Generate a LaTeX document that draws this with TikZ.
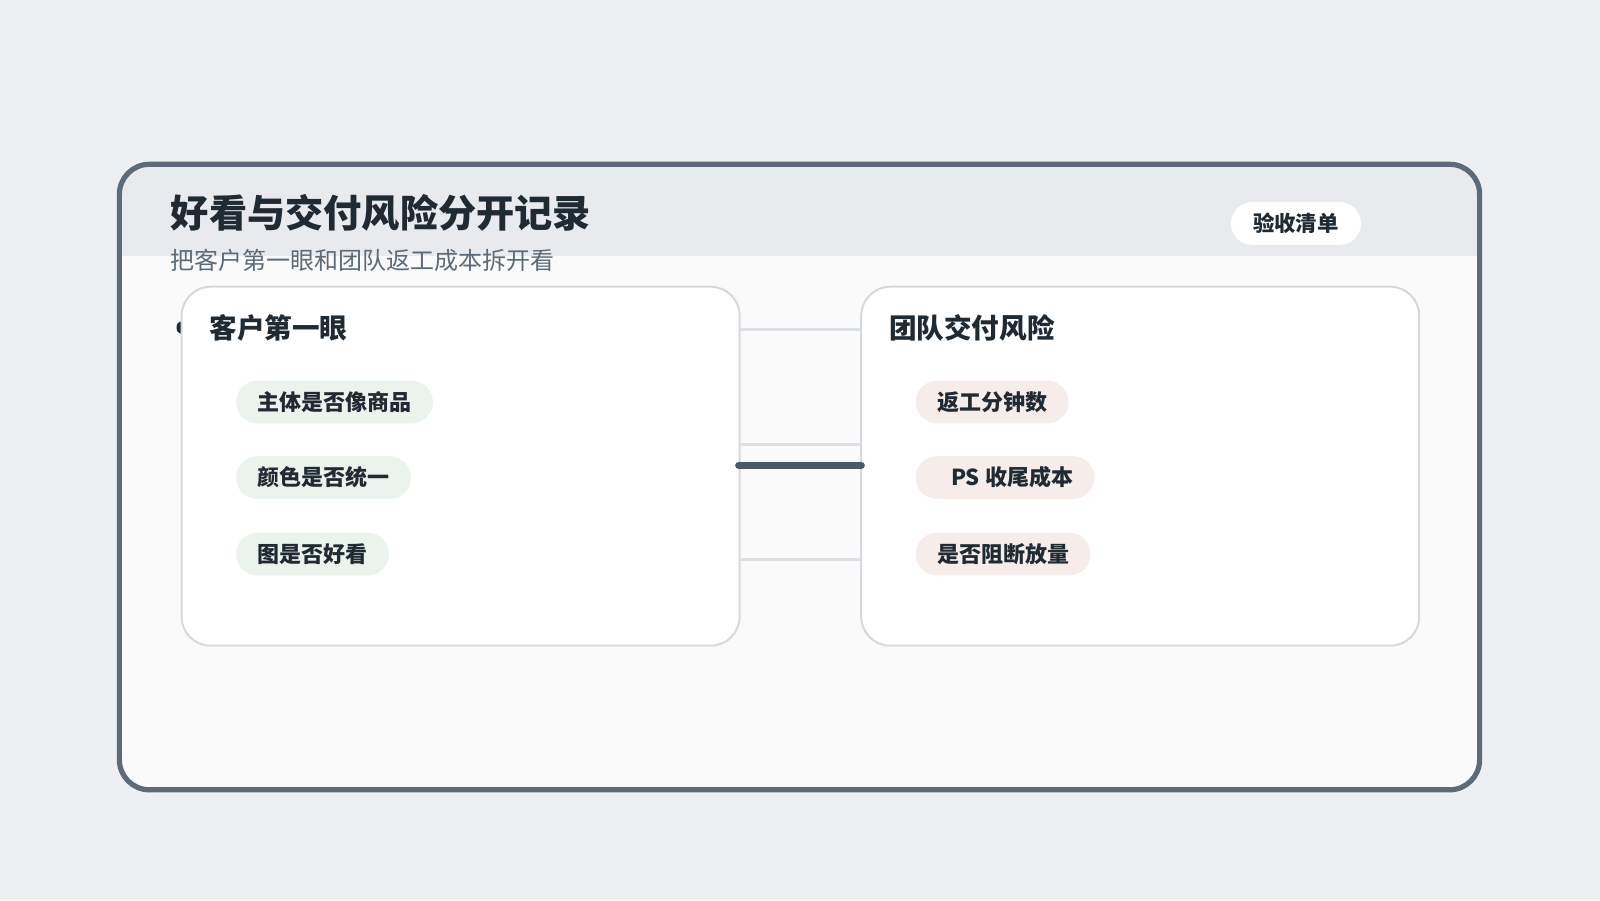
\documentclass[tikz,border=0pt]{standalone}
\usepackage{fontspec}
\setmainfont{Noto Sans CJK SC}
\definecolor{bg}{HTML}{EDF0F3}
\definecolor{frame}{HTML}{5D6B78}
\definecolor{head}{HTML}{E9EAEE}
\definecolor{ink}{HTML}{1F2A33}
\definecolor{sub}{HTML}{5D6B78}
\definecolor{cardb}{HTML}{D5D9DF}
\definecolor{conn}{HTML}{DCDFE3}
\definecolor{main}{HTML}{4B5A64}
\definecolor{green}{HTML}{EAF4EC}
\definecolor{pink}{HTML}{F6ECEA}
\begin{document}
\begin{tikzpicture}[x=0.5102pt,y=-0.5102pt,
  card/.style={draw=cardb,line width=1pt,fill=white,rounded corners=14.5pt},
  ctitle/.style={anchor=west,font=\fontsize{13.8}{16}\selectfont\bfseries,text=ink,inner sep=0},
  pill/.style={rounded corners=10.7pt,minimum height=21.4pt,anchor=west,inner xsep=10.7pt,font=\fontsize{11}{13}\selectfont\bfseries,text=ink},
  gp/.style={pill,fill=green},
  pp/.style={pill,fill=pink},
  conn/.style={draw=conn,line width=1.5pt}]
\fill[bg] (0,0) rectangle (1568,882);
\useasboundingbox (0,0) rectangle (1568,882);
\begin{scope}
\clip[rounded corners=15pt] (117,161) rectangle (1450,774);
\fill[white!96!gray] (117,161) rectangle (1450,774);
\fill[head] (117,161) rectangle (1450,251);
\end{scope}
\draw[frame,line width=2.6pt,rounded corners=15pt] (117,161) rectangle (1450,774);
\node[anchor=west,inner sep=0,font=\fontsize{19.1}{24}\selectfont\bfseries,text=ink] (title) at (167,209) {好看与交付风险分开记录};
\node[anchor=west,inner sep=0,font=\fontsize{12}{14}\selectfont,text=sub] (subt) at (167,255) {把客户第一眼和团队返工成本拆开看};
\node[fill=white,rounded corners=10.7pt,minimum width=65pt,minimum height=21.4pt,font=\fontsize{10.7}{12}\selectfont\bfseries,text=ink] (badge) at (1270,219) {验收清单};
\fill[ink] (177,321) ellipse (4 and 6);
\node[card,minimum width=279pt,minimum height=179.5pt,anchor=north west] (L) at (177,280) {};
\node[card,minimum width=279pt,minimum height=179.5pt,anchor=north west] (R) at (843,280) {};
\coordinate (l1) at (725,323); \coordinate (r1) at (843,323);
\coordinate (l2) at (725,436); \coordinate (r2) at (843,436);
\coordinate (l3) at (725,548); \coordinate (r3) at (843,548);
\coordinate (l4) at (724,456); \coordinate (r4) at (844,456);
\draw[conn] (l1) -- (r1);
\draw[conn] (l2) -- (r2);
\draw[conn] (l3) -- (r3);
\draw[main,line width=3.6pt,line cap=round] (l4) -- (r4);
\node[ctitle] (lt) at (205,321) {客户第一眼};
\node[ctitle] (rt) at (871,321) {团队交付风险};
\node[gp] (g1) at (231,394) {主体是否像商品};
\node[gp] (g2) at (231,468) {颜色是否统一};
\node[gp] (g3) at (231,543) {图是否好看};
\node[pp] (p1) at (897,394) {返工分钟数};
\node[pp] (p2) at (897,468) {\hspace{7pt}PS 收尾成本\hspace{10pt}};
\node[pp] (p3) at (897,543) {是否阻断放量};
\end{tikzpicture}
\end{document}
